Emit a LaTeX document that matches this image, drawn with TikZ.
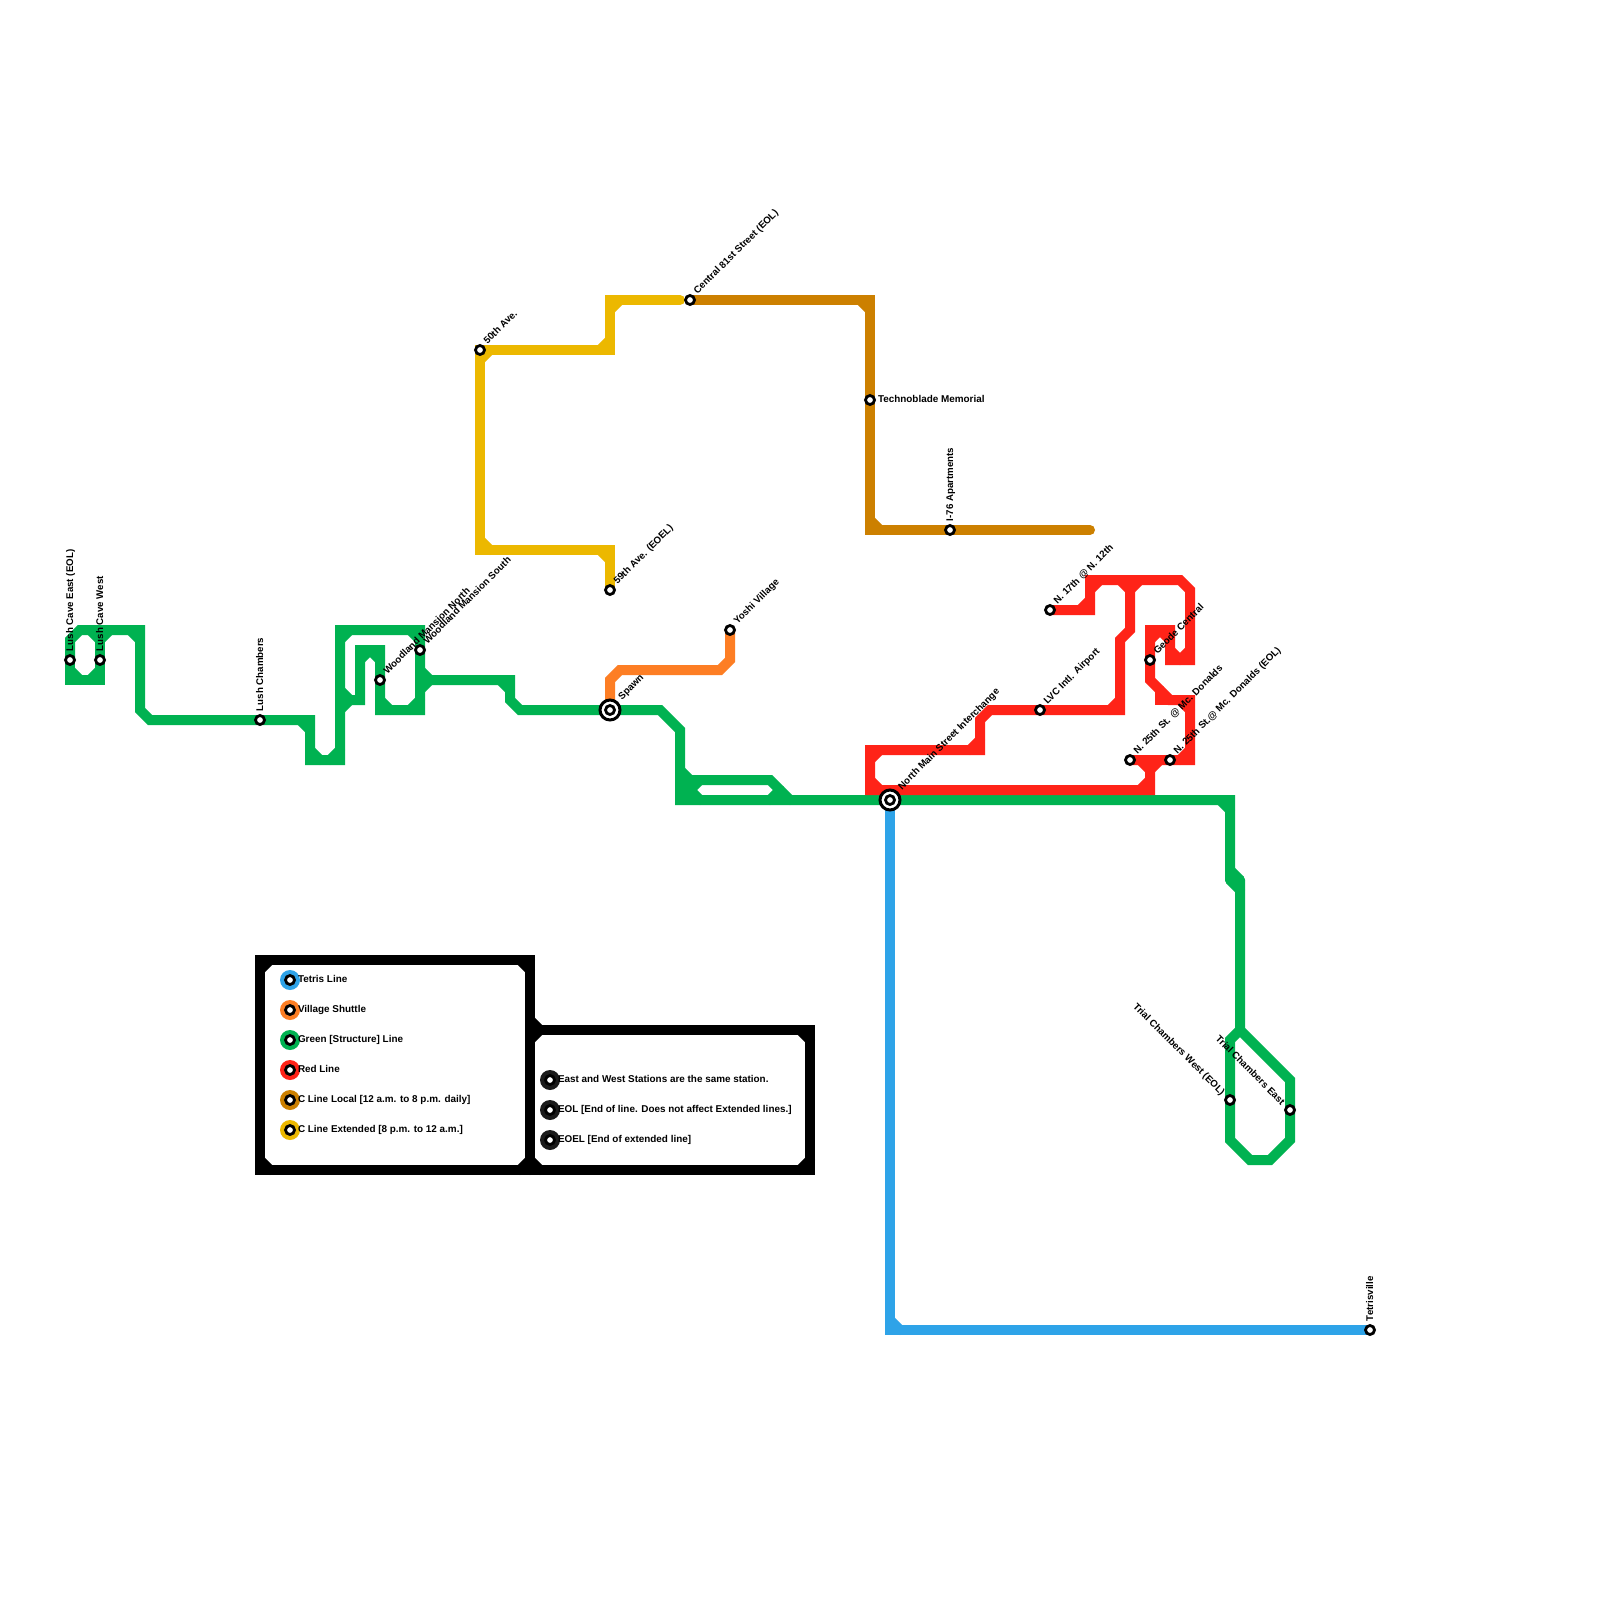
\documentclass[tikz,border=0pt]{standalone}
\usepackage{fontspec}
\setmainfont{Liberation Sans}
\usetikzlibrary{backgrounds}
\definecolor{cgreen}{HTML}{00B251}
\definecolor{cred}{HTML}{FF2318}
\definecolor{cblue}{HTML}{2EA3E8}
\definecolor{corange}{HTML}{FD7E24}
\definecolor{cbrown}{HTML}{CC8000}
\definecolor{cyellow}{HTML}{ECB800}
\definecolor{cdark}{HTML}{1A1A1A}
\tikzset{
  metro/.style={line width=10pt,line cap=round,line join=miter,miter limit=10},
  gl/.style={metro,draw=cgreen},
  rl/.style={metro,draw=cred},
  bl/.style={metro,draw=cblue},
  ol/.style={metro,draw=corange},
  br/.style={metro,draw=cbrown},
  yl/.style={metro,draw=cyellow},
  kl/.style={metro,draw=black},
  stn/.style={circle,draw=black,line width=2.8pt,fill=white,minimum size=9pt,inner sep=0pt,outer sep=0pt},
  ring/.style={circle,draw=black,line width=3pt,fill=white,minimum size=20pt,inner sep=0pt,outer sep=0pt},
  disc/.style={circle,fill=#1,minimum size=20pt,inner sep=0pt,outer sep=0pt},
  txt/.style={font=\fontsize{9.9}{11}\selectfont\bfseries,inner sep=0pt,outer sep=0pt,text=black},
  rtxt/.style={font=\fontsize{9.7}{11}\selectfont\bfseries,inner sep=0pt,outer sep=0pt,text=black},
  lne/.style={rtxt,anchor=base west,xshift=7.5pt,yshift=5.3pt,rotate=45},
  lnx/.style={rtxt,anchor=base west,xshift=12pt,yshift=10pt,rotate=45},
  lup/.style={rtxt,anchor=base west,xshift=3pt,yshift=9pt,rotate=90},
  lrt/.style={txt,anchor=base west,xshift=8pt,yshift=-2.5pt},
  lnw/.style={rtxt,anchor=base east,xshift=-9pt,yshift=4.5pt,rotate=-45},
  lgd/.style={txt,anchor=base west,xshift=8pt,yshift=-2pt},
}
\newcommand{\stnode}[3]{\node[stn] (#1) at (#2,#3) {};}
\begin{document}
\begin{tikzpicture}[x=1pt,y=-1pt]
\useasboundingbox (0,0) rectangle (1600,1600);
% interchange rings
\node[ring] (spawnring) at (610,710) {};
\node[ring] (nmainring) at (890,800) {};
% stations
\stnode{lce}{70}{660}
\stnode{lcw}{100}{660}
\stnode{lch}{260}{720}
\stnode{wn}{380}{680}
\stnode{ws}{420}{650}
\stnode{spawn}{610}{710}
\stnode{fifty}{480}{350}
\stnode{fnine}{610}{590}
\stnode{cen}{690}{300}
\stnode{tech}{870}{400}
\stnode{iapt}{950}{530}
\stnode{yoshi}{730}{630}
\stnode{nmain}{890}{800}
\stnode{nsev}{1050}{610}
\stnode{lvc}{1040}{710}
\stnode{geode}{1150}{660}
\stnode{nta}{1130}{760}
\stnode{ntb}{1170}{760}
\stnode{tcw}{1230}{1100}
\stnode{tce}{1290}{1110}
\stnode{tet}{1370}{1330}
% labels
\node[lup] (tlce) at (lce.center) {Lush Cave East (EOL)};
\node[lup] (tlcw) at (lcw.center) {Lush Cave West};
\node[lup] (tlch) at (lch.center) {Lush Chambers};
\node[lne] (twn) at (wn.center) {Woodland Mansion North};
\node[lne] (tws) at (ws.center) {Woodland Mansion South};
\node[lnx] (tspawn) at (spawn.center) {Spawn};
\node[lne] (tfifty) at (fifty.center) {50th Ave.};
\node[lne] (tfnine) at (fnine.center) {59th Ave. (EOEL)};
\node[lne] (tcen) at (cen.center) {Central 81st Street (EOL)};
\node[lrt] (ttech) at (tech.center) {Technoblade Memorial};
\node[lup] (tiapt) at (iapt.center) {I-76 Apartments};
\node[lne] (tyoshi) at (yoshi.center) {Yoshi Village};
\node[lnx] (tnmain) at (nmain.center) {North Main Street Interchange};
\node[lne] (tnsev) at (nsev.center) {N. 17th @ N. 12th};
\node[lne] (tlvc) at (lvc.center) {LVC Intl. Airport};
\node[lne] (tgeode) at (geode.center) {Geode Central};
\node[lne] (tnta) at (nta.center) {N. 25th St. @ Mc. Donalds};
\node[lne] (tntb) at (ntb.center) {N. 25th St.@ Mc. Donalds (EOL)};
\node[lnw] (ttcw) at (tcw.center) {Trial Chambers West (EOL)};
\node[lnw] (ttce) at (tce.center) {Trial Chambers East};
\node[lup] (ttet) at (tet.center) {Tetrisville};
% legend
\foreach \nm/\yy/\cc/\tx in {a/980/cblue/Tetris Line,b/1010/corange/Village Shuttle,c/1040/cgreen/Green [Structure] Line,d/1070/cred/Red Line,e/1100/cbrown/C Line Local [12 a.m. to 8 p.m. daily],f/1130/cyellow/C Line Extended [8 p.m. to 12 a.m.]}{
  \node[disc=\cc] (disc\nm) at (290,\yy) {};
  \stnode{leg\nm}{290}{\yy}
  \node[lgd] (txt\nm) at (leg\nm.center) {\tx};
}
\foreach \nm/\yy/\tx in {g/1080/East and West Stations are the same station.,h/1110/EOL [End of line. Does not affect Extended lines.],i/1140/EOEL [End of extended line]}{
  \node[disc=cdark] (disc\nm) at (550,\yy) {};
  \stnode{leg\nm}{550}{\yy}
  \node[lgd] (txt\nm) at (leg\nm.center) {\tx};
}
\begin{pgfonlayer}{background}
\fill[white] (0,0) rectangle (1600,1600);
% legend frame
\draw[kl] (530,960) -- (260,960) -- (260,1170) -- (530,1170) -- (810,1170) -- (810,1030) -- (530,1030);
\draw[kl] (530,1170) -- (530,960) -- (260,960);
\draw[kl] (260,970) -- (270,960);
\draw[kl] (520,960) -- (530,970);
\draw[kl] (260,1160) -- (270,1170);
\draw[kl] (520,1170) -- (530,1160);
\draw[kl] (530,1040) -- (540,1030);
\draw[kl] (530,1020) -- (540,1030);
\draw[kl] (530,1160) -- (540,1170);
\draw[kl] (800,1030) -- (810,1040);
\draw[kl] (810,1160) -- (800,1170);
% blue
\draw[bl] (nmain.center) -- (890,1330) -- (tet.center);
\draw[bl] (890,1320) -- (900,1330);
% orange
\draw[ol] (spawn.center) -- (610,680) -- (620,670) -- (720,670) -- (730,660) -- (yoshi.center);
% yellow
\draw[yl] (fnine.center) -- (610,550) -- (480,550) -- (fifty.center) -- (610,350) -- (610,300) -- (680,300);
\draw[yl] (480,360) -- (490,350);
\draw[yl] (600,350) -- (610,340);
\draw[yl] (610,310) -- (620,300);
\draw[yl] (480,540) -- (490,550);
\draw[yl] (600,550) -- (610,560);
% brown
\draw[br] (cen.center) -- (870,300) -- (870,530) -- (1090,530);
\draw[br] (860,300) -- (870,310);
\draw[br] (870,520) -- (880,530);
% green
\draw[gl] (lce.center) -- (70,640) -- (80,630) -- (140,630) -- (140,710) -- (150,720) -- (310,720) -- (310,760) -- (340,760) -- (340,630) -- (420,630) -- (420,710) -- (380,710) -- (380,650) -- (360,650) -- (360,700) -- (350,700);
\draw[gl] (lce.center) -- (70,680) -- (100,680) -- (100,630);
\draw[gl] (70,670) -- (80,680);
\draw[gl] (90,680) -- (100,670);
\draw[gl] (90,630) -- (100,640) -- (110,630);
\draw[gl] (130,630) -- (140,640);
\draw[gl] (300,720) -- (310,730);
\draw[gl] (310,750) -- (320,760);
\draw[gl] (330,760) -- (340,750);
\draw[gl] (340,640) -- (350,630);
\draw[gl] (410,630) -- (420,640);
\draw[gl] (340,690) -- (350,700) -- (340,710);
\draw[gl] (360,660) -- (370,650);
\draw[gl] (370,650) -- (380,660);
\draw[gl] (380,700) -- (390,710);
\draw[gl] (410,710) -- (420,700);
\draw[gl] (420,670) -- (430,680) -- (420,690);
\draw[gl] (430,680) -- (510,680) -- (510,700) -- (520,710) -- (660,710) -- (680,730) -- (680,800) -- (1230,800) -- (1230,880);
\draw[gl] (500,680) -- (510,690);
\draw[gl] (680,770) -- (690,780) -- (770,780) -- (790,800);
\draw[gl] (680,785) -- (690,785);
\draw[gl] (680,790) -- (690,790);
\draw[gl] (700,780) -- (690,790) -- (700,800);
\draw[gl] (770,800) -- (780,790);
\draw[gl] (1220,800) -- (1230,810);
\draw[gl] (1230,870) -- (1240,880);
\draw[gl] (1230,880) -- (1240,890);
\draw[gl] (1240,880) -- (1240,1030) -- (1230,1040) -- (1230,1140) -- (1250,1160) -- (1270,1160) -- (1290,1140) -- (1290,1080) -- (1240,1030);
% red
\draw[rl] (1150,760) -- (1150,790) -- (870,790) -- (870,750) -- (980,750) -- (980,720) -- (990,710) -- (1120,710) -- (1120,640) -- (1130,630) -- (1130,580);
\draw[rl] (870,760) -- (880,750);
\draw[rl] (870,780) -- (880,790);
\draw[rl] (970,750) -- (980,740);
\draw[rl] (1110,710) -- (1120,700);
\draw[rl] (nsev.center) -- (1090,610) -- (1090,580) -- (1180,580) -- (1190,590) -- (1190,660) -- (1170,660) -- (1170,630) -- (1150,630) -- (1150,680) -- (1170,700) -- (1190,700) -- (1190,760) -- (nta.center);
\draw[rl] (1160,690) -- (1160,700) -- (1170,700);
\draw[rl] (1080,610) -- (1090,600);
\draw[rl] (1090,590) -- (1100,580);
\draw[rl] (1120,580) -- (1130,590) -- (1140,580);
\draw[rl] (1170,650) -- (1180,660);
\draw[rl] (1180,660) -- (1190,650);
\draw[rl] (1150,640) -- (1160,630);
\draw[rl] (1160,630) -- (1170,640);
\draw[rl] (1180,700) -- (1190,710);
\draw[rl] (1180,760) -- (1190,750);
\draw[rl] (1140,790) -- (1150,780);
\draw[rl] (1140,760) -- (1150,770) -- (1160,760);
\end{pgfonlayer}
\end{tikzpicture}
\end{document}
